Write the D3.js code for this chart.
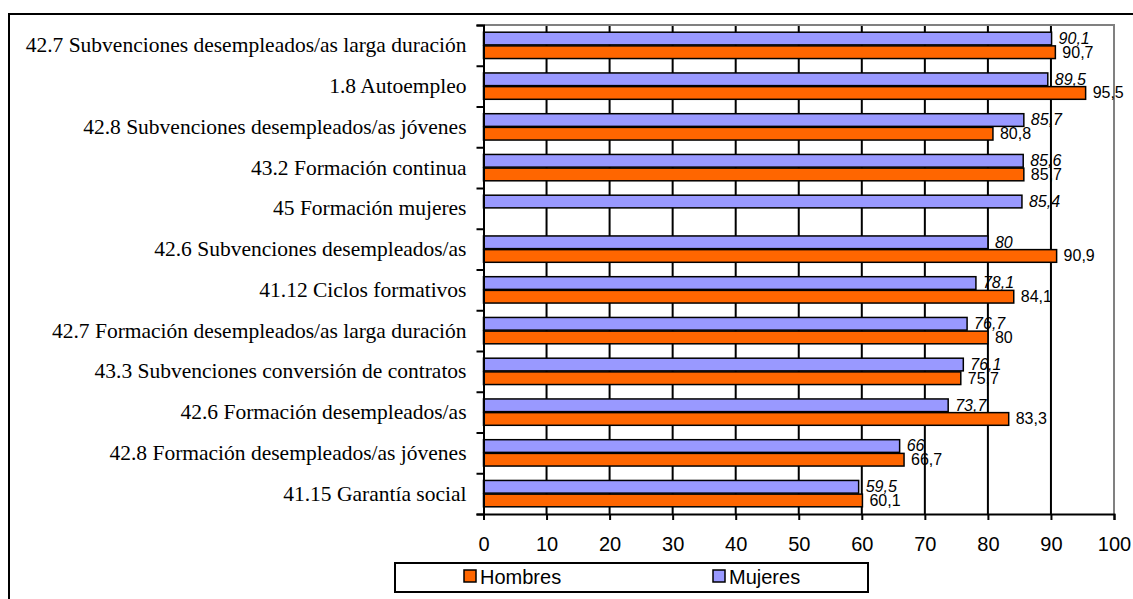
<!DOCTYPE html>
<meta charset="utf-8">
<style>
body { margin: 0; background: #fff; }
svg { display: block; }
.cat text { font-family: 'Liberation Serif', 'Times New Roman', serif; font-size: 21.5px; fill: #000; }
.xaxis text { font-family: 'Liberation Sans', Arial, sans-serif; font-size: 20px; fill: #000; }
.val { font-family: 'Liberation Sans', Arial, sans-serif; font-size: 16px; fill: #000; }
.val.muj { font-style: italic; }
.legend text { font-family: 'Liberation Sans', Arial, sans-serif; font-size: 20px; fill: #000; }
</style>
<body>
<svg width="1133" height="599"></svg>
<script src="https://d3js.org/d3.v7.min.js"></script>
<script>

const categorias = [
  "42.7 Subvenciones desempleados/as larga duración",
  "1.8 Autoempleo",
  "42.8 Subvenciones desempleados/as jóvenes",
  "43.2 Formación continua",
  "45 Formación mujeres",
  "42.6 Subvenciones desempleados/as",
  "41.12 Ciclos formativos",
  "42.7 Formación desempleados/as larga duración",
  "43.3 Subvenciones conversión de contratos",
  "42.6 Formación desempleados/as",
  "42.8 Formación desempleados/as jóvenes",
  "41.15 Garantía social"
];
const mujeres = [90.1, 89.5, 85.7, 85.6, 85.4, 80, 78.1, 76.7, 76.1, 73.7, 66, 59.5];
const hombres = [90.7, 95.5, 80.8, 85.7, null, 90.9, 84.1, 80, 75.7, 83.3, 66.7, 60.1];
const series = ["Mujeres", "Hombres"];
const colores = { Mujeres: "#9999FF", Hombres: "#FF6600" };
const xTicks = [0, 10, 20, 30, 40, 50, 60, 70, 80, 90, 100];

const svg = d3.select("svg");

// outer frame
svg.append("rect")
  .attr("x", 9).attr("y", 14)
  .attr("width", 1140).attr("height", 600)
  .attr("fill", "none").attr("stroke", "#000").attr("stroke-width", 2);

const pL = 483.5, pR = 1114, pT = 25, pB = 514;

const x = d3.scaleLinear().domain([0, 100]).range([pL, pR]);
const y = d3.scaleBand().domain(categorias).range([pT, pB]);
const sub = d3.scaleBand().domain(series).range([0, y.bandwidth()]).paddingOuter(0.49);
const yIdx = d3.scaleLinear().domain([0, categorias.length]).range([pT, pB]);

const fmt = v => String(v).replace(".", ",");

// gridlines
svg.append("g")
  .selectAll("line")
  .data(xTicks.slice(1, -1))
  .join("line")
  .attr("x1", d => x(d)).attr("x2", d => x(d))
  .attr("y1", pT).attr("y2", pB)
  .attr("stroke", "#000").attr("stroke-width", 2);

// gray plot border top/right
svg.append("path")
  .attr("d", `M${pL},${pT}H${pR}V${pB}`)
  .attr("fill", "none").attr("stroke", "#808080").attr("stroke-width", 2);

const data = [];
categorias.forEach((c, i) => {
  data.push({ cat: c, s: "Mujeres", v: mujeres[i] });
  data.push({ cat: c, s: "Hombres", v: hombres[i] });
});
const conValor = data.filter(d => d.v !== null);

svg.append("g")
  .selectAll("rect")
  .data(conValor)
  .join("rect")
  .attr("x", x(0))
  .attr("y", d => y(d.cat) + sub(d.s) + 0.5)
  .attr("width", d => x(d.v) - x(0))
  .attr("height", sub.bandwidth() - 1)
  .attr("fill", d => colores[d.s])
  .attr("stroke", "#000").attr("stroke-width", 1.5);

svg.append("g")
  .selectAll("text")
  .data(conValor)
  .join("text")
  .attr("class", d => d.s === "Mujeres" ? "val muj" : "val")
  .attr("x", d => x(d.v) + 7)
  .attr("y", d => y(d.cat) + sub(d.s) + sub.bandwidth() - 1.5)
  .text(d => fmt(d.v));

// left axis: category boundaries
svg.append("g")
  .attr("transform", `translate(${pL},0)`)
  .call(d3.axisLeft(yIdx).tickValues(d3.range(categorias.length + 1)).tickSize(7).tickFormat(""))
  .call(g => g.selectAll("path, line").attr("stroke", "#000").attr("stroke-width", 2));

// category labels
svg.append("g")
  .attr("class", "cat")
  .attr("transform", `translate(${pL},0)`)
  .call(d3.axisLeft(y).tickSize(0).tickPadding(17))
  .call(g => g.select(".domain").remove())
  .call(g => g.selectAll("text").attr("font-family", null).attr("font-size", null));

// bottom axis
svg.append("g")
  .attr("class", "xaxis")
  .attr("transform", `translate(0,${pB})`)
  .call(d3.axisBottom(x).tickValues(xTicks).tickSize(6).tickPadding(17).tickFormat(d3.format("d")))
  .call(g => g.selectAll("path, line").attr("stroke", "#000").attr("stroke-width", 2))
  .call(g => g.selectAll("text").attr("font-family", null).attr("font-size", null));

// legend
const leg = svg.append("g").attr("class", "legend");
leg.append("rect")
  .attr("x", 395).attr("y", 563).attr("width", 473).attr("height", 29)
  .attr("fill", "#fff").attr("stroke", "#000").attr("stroke-width", 2);
const legItems = [{ s: "Hombres", x: 464 }, { s: "Mujeres", x: 713 }];
legItems.forEach(it => {
  leg.append("rect")
    .attr("x", it.x).attr("y", 570).attr("width", 12).attr("height", 12)
    .attr("fill", colores[it.s]).attr("stroke", "#000").attr("stroke-width", 1.5);
  leg.append("text")
    .attr("x", it.x + 16).attr("y", 584)
    .text(it.s);
});

</script>
</body>
